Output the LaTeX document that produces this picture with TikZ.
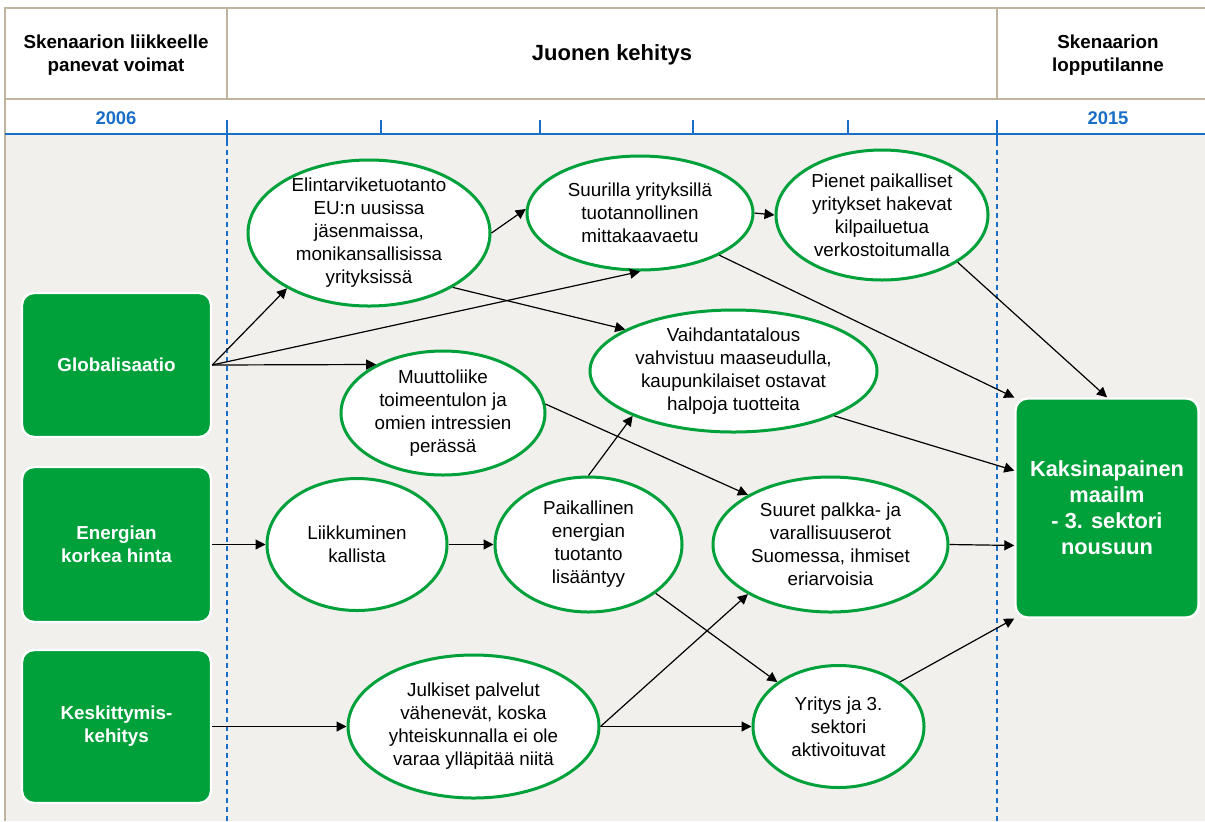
\documentclass[tikz,border=0pt]{standalone}
\usepackage{fontspec}
\setmainfont{Liberation Sans}
\usetikzlibrary{arrows.meta,shapes.geometric,positioning}
\definecolor{vihrea}{RGB}{0,160,58}
\definecolor{sininen}{RGB}{25,110,200}
\definecolor{harmaa}{RGB}{241,240,237}
\definecolor{ruskea}{RGB}{192,180,158}

\begin{document}
\begin{tikzpicture}
	[x=0.5pt,y=-0.5pt,
	event/.style={ellipse,draw=vihrea,fill=white,line width=1.5pt,
		inner sep=-6pt,align=center,font=\fontsize{9.4}{11.5}\selectfont},
	driver/.style={rectangle,rounded corners=6pt,draw=white,fill=vihrea,line width=1.2pt,
		minimum width=94.5pt,text=white,align=center,font=\bfseries\fontsize{9.4}{11.5}\selectfont},
	head/.style={align=center,font=\bfseries\fontsize{9.4}{11.5}\selectfont},
	year/.style={text=sininen,font=\bfseries\fontsize{9.2}{11}\selectfont},
	arr/.style={-{Triangle[length=5pt,width=5pt]},line width=0.6pt}]
	\useasboundingbox (0,0) rectangle (1205,821);

	%otsikkorivi
	\fill[harmaa] (5,134) rectangle (1205,821);
	\draw[ruskea,line width=0.8pt] (5,821) -- (5,8) -- (1205,8);
	\draw[ruskea,line width=0.8pt] (5,99) -- (1205,99);
	\draw[ruskea,line width=0.8pt] (227,8) -- (227,99) (997,8) -- (997,99);
	\node[head] (hdrleft) at (116,55) {Skenaarion liikkeelle\\panevat voimat};
	\node[head,font=\bfseries\fontsize{11}{13}\selectfont] (hdrmid) at (612,55) {Juonen kehitys};
	\node[head] (hdrright) at (1108,55) {Skenaarion\\lopputilanne};
	\node[year] (yr1) at (116,118) {2006};
	\node[year] (yr2) at (1108,118) {2015};

	%aikajana
	\draw[sininen,line width=1pt] (5,134) -- (1205,134);
	\foreach \x in {381,540,693,848}
		\draw[sininen,line width=1pt] (\x,120) -- (\x,134);
	\foreach \x in {227,997}{
		\draw[sininen,line width=1pt] (\x,120) -- (\x,141);
		\draw[sininen,line width=0.8pt,dash pattern=on 2.5pt off 2pt] (\x,141) -- (\x,821);}

	%voimat ja lopputilanne
	\node[driver,minimum height=72pt] (glob) at (116.5,365) {Globalisaatio};
	\node[driver,minimum height=77.5pt] (energ) at (116.5,544.5) {Energian\\korkea hinta};
	\node[driver,minimum height=76.5pt] (kesk) at (116.5,726.5) {Keskittymis-\\kehitys};
	\node[driver,minimum width=91.5pt,minimum height=109.5pt,
		font=\bfseries\fontsize{10.9}{13}\selectfont] (kaksi) at (1107,508)
		{Kaksinapainen\\maailm\\- 3. sektori\\nousuun};

	%tapahtumat
	\node[event,minimum width=121pt,minimum height=73pt] (e1) at (369,233)
		{Elintarviketuotanto\\EU:n uusissa\\jäsenmaissa,\\monikansallisissa\\yrityksissä};
	\node[event,minimum width=113pt,minimum height=57pt] (e2) at (640,213)
		{Suurilla yrityksillä\\tuotannollinen\\mittakaavaetu};
	\node[event,minimum width=106pt,minimum height=65pt] (e3) at (882,215)
		{Pienet paikalliset\\yritykset hakevat\\kilpailuetua\\verkostoitumalla};
	\node[event,minimum width=143.5pt,minimum height=61pt] (e4) at (733.5,371)
		{Vaihdantatalous\\vahvistuu maaseudulla,\\kaupunkilaiset ostavat\\halpoja tuotteita};
	\node[event,minimum width=102pt,minimum height=62pt] (e5) at (443,413)
		{Muuttoliike\\toimeentulon ja\\omien intressien\\perässä};
	\node[event,minimum width=90pt,minimum height=66pt] (e6) at (357,544.5)
		{Liikkuminen\\kallista};
	\node[event,minimum width=93.5pt,minimum height=67.5pt] (e7) at (588.5,544.5)
		{Paikallinen\\energian\\tuotanto\\lisääntyy};
	\node[event,minimum width=117.5pt,minimum height=67.5pt] (e8) at (830.5,544.5)
		{Suuret palkka- ja\\varallisuuserot\\Suomessa, ihmiset\\eriarvoisia};
	\node[event,minimum width=125.5pt,minimum height=71.5pt] (e9) at (473.5,726.5)
		{Julkiset palvelut\\vähenevät, koska\\yhteiskunnalla ei ole\\varaa ylläpitää niitä};
	\node[event,minimum width=85.5pt,minimum height=61pt] (e10) at (838.5,726.5)
		{Yritys ja 3.\\sektori\\aktivoituvat};

	%nuolet
	\draw[arr] (glob.east) -- (e1.214);
	\draw[arr] (glob.east) -- (e2.south);
	\draw[arr] (glob.east) -- (e5.144);
	\draw[arr] (energ.east) -- (e6.west);
	\draw[arr] (kesk.east) -- (e9.west);
	\draw[arr] (e1.east) -- (e2.178);
	\draw[arr] (e1.-33) -- (e4.159);
	\draw[arr] (e2.east) -- (e3.west);
	\draw[arr] (e2.-28) -- (kaksi.130);
	\draw[arr] (e3.-32) -- (kaksi.north);
	\draw[arr] (e4.-24) -- (kaksi.158);
	\draw[arr] (e5.5) -- (e8.149);
	\draw[arr] (e6.east) -- (e7.west);
	\draw[arr] (e7.north) -- (e4.204);
	\draw[arr] (e7.-36) -- (e10.144);
	\draw[arr] (e8.east) -- (kaksi.202);
	\draw[arr] (e9.east) -- (e8.211);
	\draw[arr] (e9.east) -- (e10.west);
	\draw[arr] (e10.36) -- (kaksi.230);
\end{tikzpicture}
\end{document}
